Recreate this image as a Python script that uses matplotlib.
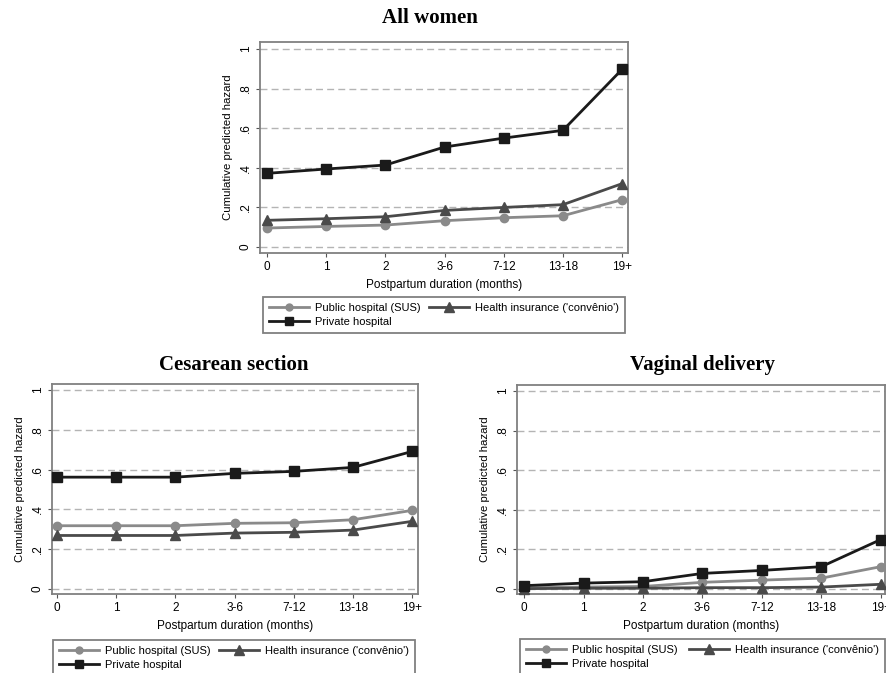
import matplotlib.pyplot as plt
from matplotlib.lines import Line2D

plt.rcParams['font.family'] = ['Liberation Sans', 'DejaVu Sans']

# Postpartum duration categories
periods = ['0', '1', '2', '3-6', '7-12', '13-18', '19+']

# Cumulative predicted hazard, all women
all_public = [0.096, 0.104, 0.111, 0.133, 0.148, 0.158, 0.239]
all_insurance = [0.135, 0.143, 0.153, 0.185, 0.200, 0.214, 0.320]
all_private = [0.372, 0.394, 0.414, 0.505, 0.550, 0.589, 0.897]

# Cesarean section
ces_public = [0.318, 0.318, 0.318, 0.330, 0.333, 0.348, 0.395]
ces_insurance = [0.269, 0.269, 0.269, 0.281, 0.285, 0.296, 0.340]
ces_private = [0.562, 0.562, 0.562, 0.581, 0.591, 0.611, 0.691]

# Vaginal delivery
vag_public = [0.007, 0.010, 0.013, 0.034, 0.045, 0.055, 0.113]
vag_insurance = [0.002, 0.004, 0.004, 0.007, 0.007, 0.010, 0.024]
vag_private = [0.017, 0.030, 0.037, 0.079, 0.094, 0.113, 0.250]

labels = ['Public hospital (SUS)', "Health insurance ('convênio')", 'Private hospital']
colors = ['#8a8a8a', '#4a4a4a', '#1a1a1a']
markers = ['o', '^', 's']
msizes = [6, 7.5, 7]
leg_msizes = [5, 6.5, 6]

W, H = 887, 673
fig = plt.figure(figsize=(W / 100, H / 100), dpi=100)


def box(left, top, right, bottom):
    return [left / W, 1 - bottom / H, (right - left) / W, (bottom - top) / H]


def panel(rect, xlim, ylim, series, title, title_x, title_y, leg_box):
    ax = fig.add_axes(rect)
    x = list(range(len(periods)))
    for y, c, m, ms in zip(series, colors, markers, msizes):
        ax.plot(x, y, color=c, marker=m, markersize=ms, linewidth=2, zorder=3,
                clip_on=False)
    for g in [0, 0.2, 0.4, 0.6, 0.8, 1.0]:
        ax.axhline(g, color='#b4b4b4', linestyle=(0, (5, 3)), linewidth=1, zorder=1)
    ax.set_xlim(*xlim)
    ax.set_ylim(*ylim)
    ax.set_xticks(x)
    ax.set_xticklabels(periods, fontsize=8.5)
    ax.set_yticks([0, 0.2, 0.4, 0.6, 0.8, 1.0])
    ax.set_yticklabels(['0', '.2', '.4', '.6', '.8', '1'], fontsize=8.5,
                       rotation=90, va='center')
    ax.tick_params(length=3, width=0.8, color='#555555', pad=3)
    for s in ax.spines.values():
        s.set_color('#808080')
        s.set_linewidth(1.3)
    ax.set_xlabel('Postpartum duration (months)', fontsize=8.5, labelpad=4)
    ax.set_ylabel('Cumulative predicted hazard', fontsize=8.2, labelpad=5)
    fig.text(title_x / W, 1 - title_y / H, title, family='Liberation Serif',
             fontweight='bold', fontsize=15, ha='center', va='center')

    handles = [Line2D([], [], color=c, marker=m, markersize=ms, linewidth=2)
               for c, m, ms in zip(colors, markers, leg_msizes)]
    order = [0, 2, 1]
    l, t, r, b = leg_box
    leg = ax.legend([handles[i] for i in order], [labels[i] for i in order],
                    ncol=2, loc='upper left', fontsize=8.0,
                    bbox_to_anchor=(l / W, 1 - b / H, (r - l) / W, (b - t) / H),
                    bbox_transform=fig.transFigure, mode='expand',
                    borderaxespad=0, fancybox=False, edgecolor='#808080',
                    handlelength=3.6, borderpad=0.5, labelspacing=0.4,
                    columnspacing=1.0, handletextpad=0.6, framealpha=1)
    leg.get_frame().set_linewidth(1.3)
    return ax


panel(box(260, 42, 628, 253), (-0.12, 6.1), (-0.03, 1.035),
      [all_public, all_insurance, all_private], 'All women', 430, 18,
      (263, 297, 625, 333))
panel(box(52, 384, 418, 594), (-0.085, 6.1), (-0.025, 1.03),
      [ces_public, ces_insurance, ces_private], 'Cesarean section', 234, 365,
      (53, 640, 415, 676))
panel(box(517, 385, 885, 594), (-0.12, 6.07), (-0.025, 1.03),
      [vag_public, vag_insurance, vag_private], 'Vaginal delivery', 703, 365,
      (520, 639, 885, 675))

fig.savefig('out.png', dpi=100)
